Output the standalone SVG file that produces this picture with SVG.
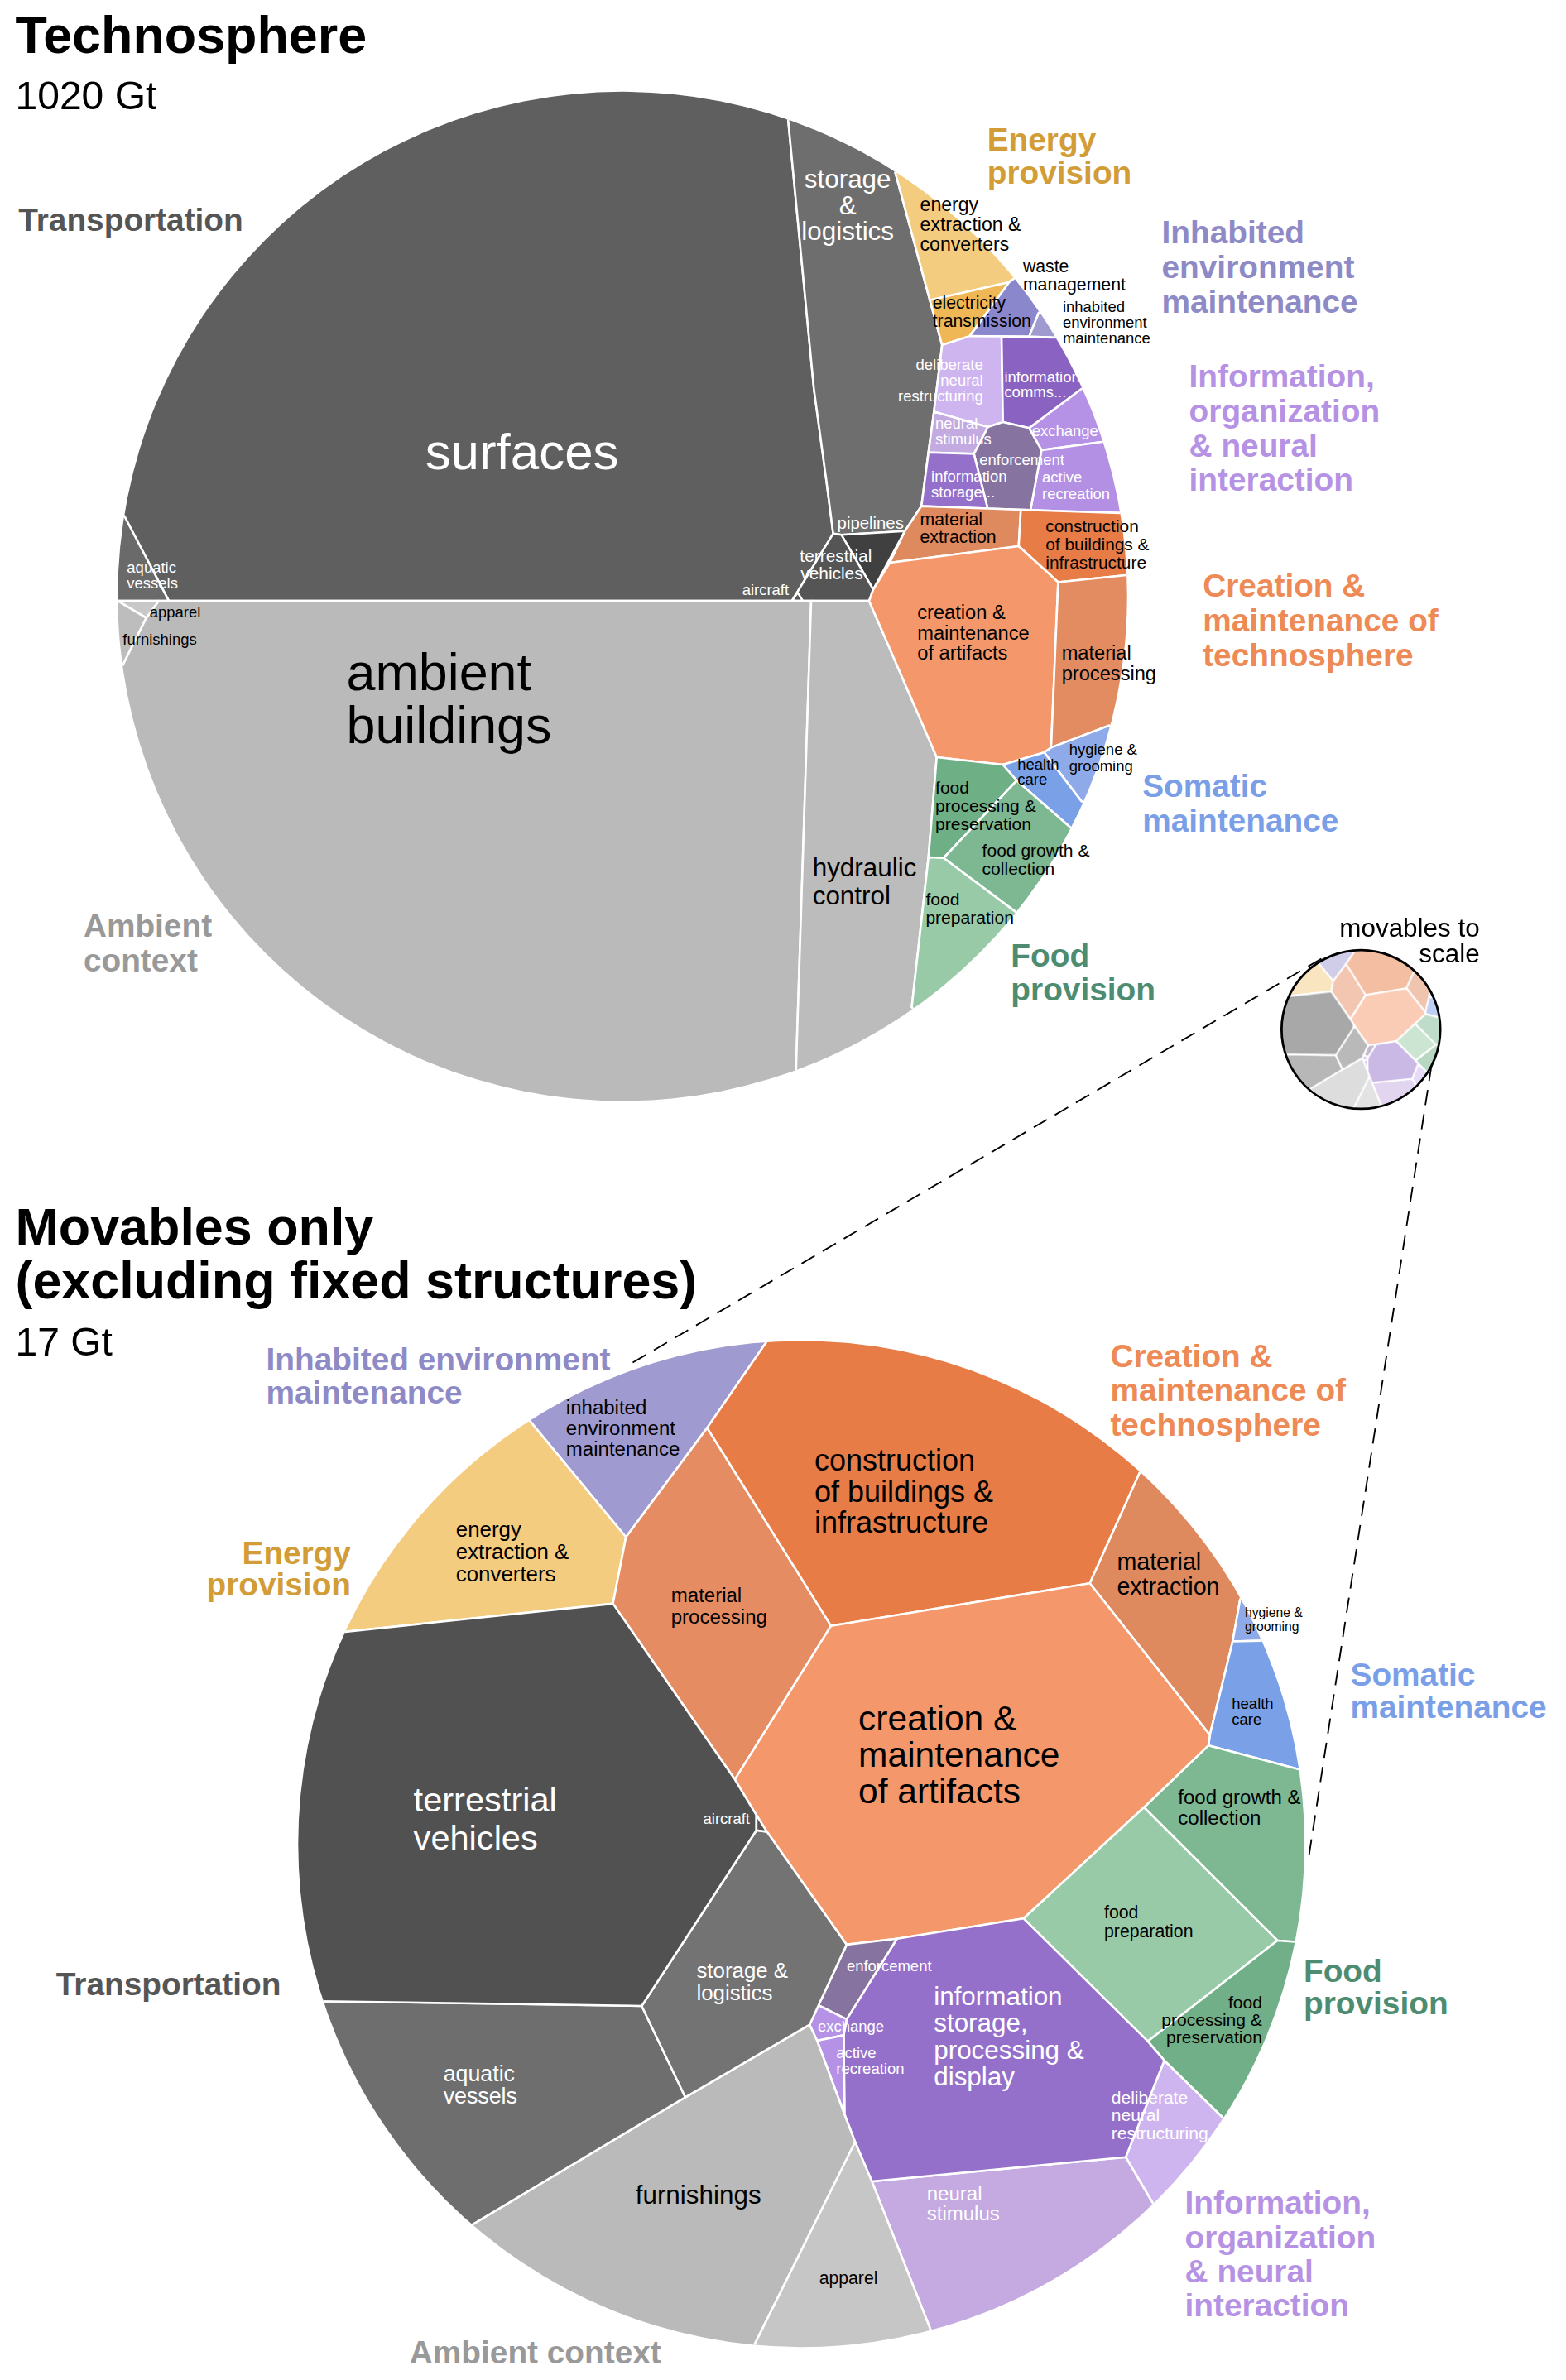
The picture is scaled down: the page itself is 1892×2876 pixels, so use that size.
<svg xmlns="http://www.w3.org/2000/svg" xmlns:xlink="http://www.w3.org/1999/xlink" width="1892" height="2876" viewBox="0 0 1892 2876">
<style>
text{font-family:"Liberation Sans",Arial,Helvetica,sans-serif;stroke:none}
.w{fill:#fff}
.k{fill:#000}
.grp{font-weight:700;font-size:21px}
.ttl{font-weight:700;font-size:34px;fill:#000}
.sub{font-size:26px;fill:#000}
</style>
<defs>
<clipPath id="clipT" clipPathUnits="userSpaceOnUse"><circle cx="407" cy="390" r="330"/></clipPath>
<clipPath id="clipB" clipPathUnits="userSpaceOnUse"><circle cx="524" cy="1206" r="329"/></clipPath>
</defs>
<rect width="1892" height="2876" fill="#fff"/>
<g transform="scale(1.8477)">

<!-- Titles -->
<g id="titles">
<text class="ttl" x="10" y="34.8">Technosphere</text>
<text class="sub" x="10" y="71.5">1020 Gt</text>
<text class="ttl" x="10" y="814.2">Movables only</text>
<text class="ttl" x="10" y="849">(excluding fixed structures)</text>
<text class="sub" x="10" y="886.7">17 Gt</text>
</g>

<!-- Group labels -->
<g id="group-labels" class="grp">
<text x="12" y="151" fill="#555555">Transportation</text>
<text fill="#999999"><tspan x="54.6" y="612.7">Ambient</tspan><tspan x="54.6" y="635.5">context</tspan></text>
<text fill="#d29c36"><tspan x="645.5" y="98.3">Energy</tspan><tspan x="645.5" y="120">provision</tspan></text>
<text fill="#8e8ac6"><tspan x="759.6" y="159">Inhabited</tspan><tspan x="759.6" y="181.7">environment</tspan><tspan x="759.6" y="204.5">maintenance</tspan></text>
<text fill="#b692e4"><tspan x="777.5" y="253.5">Information,</tspan><tspan x="777.5" y="276">organization</tspan><tspan x="777.5" y="298.5">&amp; neural</tspan><tspan x="777.5" y="321">interaction</tspan></text>
<text fill="#ee8a55"><tspan x="786.5" y="390.2">Creation &amp;</tspan><tspan x="786.5" y="413">maintenance of</tspan><tspan x="786.5" y="435.9">technosphere</tspan></text>
<text fill="#7a9fe7"><tspan x="747" y="521.3">Somatic</tspan><tspan x="747" y="544">maintenance</tspan></text>
<text fill="#4d8c70"><tspan x="661" y="632.4">Food</tspan><tspan x="661" y="654.5">provision</tspan></text>

<text fill="#8e8ac6"><tspan x="174" y="896.5">Inhabited environment</tspan><tspan x="174" y="918">maintenance</tspan></text>
<text fill="#d29c36" text-anchor="end"><tspan x="229.5" y="1022.7">Energy</tspan><tspan x="229.5" y="1043.5">provision</tspan></text>
<text fill="#ee8a55"><tspan x="726" y="894">Creation &amp;</tspan><tspan x="726" y="916.5">maintenance of</tspan><tspan x="726" y="939">technosphere</tspan></text>
<text fill="#7a9fe7"><tspan x="883" y="1102.3">Somatic</tspan><tspan x="883" y="1123.5">maintenance</tspan></text>
<text fill="#4d8c70"><tspan x="852.4" y="1296">Food</tspan><tspan x="852.4" y="1317.5">provision</tspan></text>
<text fill="#b692e4"><tspan x="774.8" y="1448">Information,</tspan><tspan x="774.8" y="1470.3">organization</tspan><tspan x="774.8" y="1492.6">&amp; neural</tspan><tspan x="774.8" y="1515">interaction</tspan></text>
<text x="36.7" y="1305" fill="#555555">Transportation</text>
<text x="267.8" y="1545.5" fill="#999999">Ambient context</text>
</g>

<!-- Technosphere (top circle): cells -->
<g id="technosphere-cells" stroke="#fff" stroke-width="1.4" stroke-linejoin="round">
<g id="t-surfaces"><polygon clip-path="url(#clipT)" fill="#5f5f5f" points="110.4,393 517.8,393 544.8,349 540.3,314 532.2,254.4 515.1,75.8 542,-3 407,-30 110,93 -8,323 81.2,337.3"/></g>
<g id="t-storage"><polygon clip-path="url(#clipT)" fill="#6e6e6e" points="515.1,75.8 532.2,254.4 540.3,314 544.8,349 550.2,349.8 591.7,347.3 602.5,331 607.1,295.9 610.7,269.2 616,225.7 608,196.3 585.4,112.8 630,43.5 542,-3"/></g>
<g id="t-pipelines"><polygon clip-path="url(#clipT)" fill="#404040" points="550.2,349.8 591.7,347.3 571,385.5"/></g>
<g id="t-terrestrial"><polygon clip-path="url(#clipT)" fill="#555555" points="544.8,349 550.2,349.8 571,385.5 568.3,393 517.8,393"/></g>
<g id="t-aircraft"><polygon clip-path="url(#clipT)" fill="#555555" points="518,393 521.5,387.5 525,393"/></g>
<g id="t-aquatic"><polygon clip-path="url(#clipT)" fill="#6a6a6a" points="81.2,337.3 110.4,393 -10,393 -8,323"/></g>
<g id="t-ambient"><polygon clip-path="url(#clipT)" fill="#bababa" points="103.7,393 530.4,393 521.4,671 520.5,700 549,777.5 407,810 110,687 -1.4,446 80.3,434.8 95.6,404.1"/></g>
<g id="t-apparel"><polygon clip-path="url(#clipT)" fill="#c8c8c8" points="77,393 103.7,393 95.6,404.1"/></g>
<g id="t-furnishings"><polygon clip-path="url(#clipT)" fill="#bdbdbd" points="77,393 95.6,404.1 80.3,434.8 -1.4,446 -10,393"/></g>
<g id="t-hydraulic"><polygon clip-path="url(#clipT)" fill="#bcbcbc" points="530.4,393 568.3,393 612.5,495.2 607.1,560.7 596.2,658.5 643.5,725.6 549,777.5 520.5,700 521.4,671"/></g>
<g id="t-energy"><polygon clip-path="url(#clipT)" fill="#f3cc80" points="585.4,112.8 608,196.3 659.9,184.5 663,182.2 727,130 630,43.5"/></g>
<g id="t-electricity"><polygon clip-path="url(#clipT)" fill="#f0b756" points="608,196.3 659.9,184.5 634.1,219.8 616,225.7"/></g>
<g id="t-waste"><polygon clip-path="url(#clipT)" fill="#8b87cc" points="659.9,184.5 663,182.2 727,130 747.3,158.3 679.2,204.6 672.9,220.2 634.1,219.8"/></g>
<g id="t-inhabited"><polygon clip-path="url(#clipT)" fill="#9f9ad0" points="679.2,204.6 747.3,158.3 760.8,178.5 690,220.8 672.9,220.2"/></g>
<g id="t-deliberate"><polygon clip-path="url(#clipT)" fill="#cfb5f0" points="616,225.7 634.1,219.8 654.9,220 655.8,276 645.9,279.3 610.7,269.2"/></g>
<g id="t-comms"><polygon clip-path="url(#clipT)" fill="#8a62c2" points="654.9,220 672.9,220.2 690,220.8 760.8,178.5 782.3,220.5 707.2,254.4 672.9,280 655.8,276"/></g>
<g id="t-exchange"><polygon clip-path="url(#clipT)" fill="#b592e6" points="672.9,280 707.2,254.4 782.3,220.5 799.1,263.8 720.7,289 681,294.4"/></g>
<g id="t-recreation"><polygon clip-path="url(#clipT)" fill="#b390e4" points="681,294.4 720.7,289 799.1,263.8 812.6,321.5 732,335.5 673.8,333.6"/></g>
<g id="t-enforcement"><polygon clip-path="url(#clipT)" fill="#87739f" points="645.9,279.3 655.8,276 672.9,280 681,294.4 673.8,333.6 645.8,332.6 636.8,296.8"/></g>
<g id="t-stimulus"><polygon clip-path="url(#clipT)" fill="#c3aae0" points="610.7,269.2 645.9,279.3 636.8,296.8 607.1,295.9"/></g>
<g id="t-infostorage"><polygon clip-path="url(#clipT)" fill="#9570cb" points="607.1,295.9 636.8,296.8 645.8,332.6 602.5,331"/></g>
<g id="t-extraction"><polygon clip-path="url(#clipT)" fill="#de8a5e" points="602.5,331 645.8,332.6 667.5,333.4 666.1,357.2 581.8,368 591.7,347.3"/></g>
<g id="t-construction"><polygon clip-path="url(#clipT)" fill="#e87c47" points="667.5,333.4 673.8,333.6 732,335.5 813.8,322.4 818.8,372.6 736.4,376.1 691.9,380.7 666.1,357.2"/></g>
<g id="t-creation"><polygon clip-path="url(#clipT)" fill="#f4986c" points="581.8,368 666.1,357.2 691.9,380.7 687.3,488.9 682.8,492.1 655.8,500.1 612.5,495.2 568.3,393 571,385.5"/></g>
<g id="t-processing"><polygon clip-path="url(#clipT)" fill="#e38c62" points="691.9,380.7 736.4,376.1 818.8,372.6 819,440 804.8,495.6 725.2,474.5 687.3,488.9"/></g>
<g id="t-hygiene"><polygon clip-path="url(#clipT)" fill="#8faae8" points="682.8,492.1 687.3,488.9 725.2,474.5 804.8,495.6 782.3,557.6 707.2,524.1"/></g>
<g id="t-health"><polygon clip-path="url(#clipT)" fill="#7aa0e8" points="655.8,500.1 682.8,492.1 707.2,524.1 782.3,557.6 773.3,579 700,541.2 664.8,510.5"/></g>
<g id="t-foodproc"><polygon clip-path="url(#clipT)" fill="#6faf86" points="612.5,495.2 655.8,500.1 664.8,510.5 617,561.1 607.1,560.7"/></g>
<g id="t-foodgrowth"><polygon clip-path="url(#clipT)" fill="#7db892" points="664.8,510.5 700,541.2 773.3,579 728.1,647.8 663.9,596.2 617,561.1"/></g>
<g id="t-foodprep"><polygon clip-path="url(#clipT)" fill="#98caa7" points="607.1,560.7 617,561.1 663.9,596.2 728.1,647.8 643.5,725.6 596.2,658.5"/></g>
</g>

<!-- Technosphere (top circle): labels -->
<g id="technosphere-labels">
<text id="t-surfaces-label" class="w" x="278" y="307" font-size="33.5">surfaces</text>
<text id="t-storage-label" class="w" font-size="17" text-anchor="middle"><tspan x="554.3" y="123">storage</tspan><tspan x="554.3" y="140">&amp;</tspan><tspan x="554.3" y="157">logistics</tspan></text>
<text id="t-pipelines-label" class="w" x="547.5" y="345.6" font-size="11">pipelines</text>
<text id="t-terrestrial-label" class="w" font-size="11.3"><tspan x="523" y="367.7">terrestrial</tspan><tspan x="523.5" y="378.8">vehicles</tspan></text>
<text id="t-aircraft-label" class="w" x="485.3" y="389.3" font-size="10">aircraft</text>
<text id="t-aquatic-label" class="w" font-size="10"><tspan x="83" y="374.3">aquatic</tspan><tspan x="83" y="384.6">vessels</tspan></text>
<text id="t-ambient-label" class="k" font-size="34"><tspan x="226.5" y="451.5">ambient</tspan><tspan x="226.5" y="486">buildings</tspan></text>
<text id="t-apparel-label" class="k" x="97.8" y="403.6" font-size="10">apparel</text>
<text id="t-furnishings-label" class="k" x="80.3" y="421.6" font-size="10">furnishings</text>
<text id="t-hydraulic-label" class="k" font-size="17"><tspan x="531.3" y="573.3">hydraulic</tspan><tspan x="531.3" y="591.4">control</tspan></text>
<text id="t-energy-label" class="k" font-size="12.5"><tspan x="601.6" y="138">energy</tspan><tspan x="601.6" y="151">extraction &amp;</tspan><tspan x="601.6" y="164">converters</tspan></text>
<text id="t-electricity-label" class="k" font-size="11.5"><tspan x="609.8" y="202.1">electricity</tspan><tspan x="609.8" y="213.8">transmission</tspan></text>
<text id="t-waste-label" class="k" font-size="11.5"><tspan x="668.9" y="178.2">waste</tspan><tspan x="668.9" y="189.8">management</tspan></text>
<text id="t-inhabited-label" class="k" font-size="10"><tspan x="694.9" y="203.9">inhabited</tspan><tspan x="694.9" y="214.1">environment</tspan><tspan x="694.9" y="224.6">maintenance</tspan></text>
<text id="t-deliberate-label" class="w" font-size="10" text-anchor="end"><tspan x="642.8" y="241.7">deliberate</tspan><tspan x="642.8" y="252.2">neural</tspan><tspan x="642.8" y="262.5">restructuring</tspan></text>
<text id="t-comms-label" class="w" font-size="10"><tspan x="656.7" y="249.9">information</tspan><tspan x="656.7" y="259.8">comms...</tspan></text>
<text id="t-exchange-label" class="w" x="674.7" y="285" font-size="10">exchange</text>
<text id="t-recreation-label" class="w" font-size="10"><tspan x="681.4" y="315.7">active</tspan><tspan x="681.4" y="326.2">recreation</tspan></text>
<text id="t-enforcement-label" class="w" x="640.4" y="304" font-size="10">enforcement</text>
<text id="t-stimulus-label" class="w" font-size="10"><tspan x="611.6" y="280.5">neural</tspan><tspan x="611.6" y="290.8">stimulus</tspan></text>
<text id="t-infostorage-label" class="w" font-size="10"><tspan x="608.9" y="314.8">information</tspan><tspan x="608.9" y="325.1">storage...</tspan></text>
<text id="t-extraction-label" class="k" font-size="11.5"><tspan x="601.6" y="343.7">material</tspan><tspan x="601.6" y="355">extraction</tspan></text>
<text id="t-construction-label" class="k" font-size="11.3"><tspan x="683.7" y="348.2">construction</tspan><tspan x="683.7" y="359.9">of buildings &amp;</tspan><tspan x="683.7" y="371.6">infrastructure</tspan></text>
<text id="t-creation-label" class="k" font-size="12.8"><tspan x="599.8" y="405">creation &amp;</tspan><tspan x="599.8" y="418.2">maintenance</tspan><tspan x="599.8" y="431.5">of artifacts</tspan></text>
<text id="t-processing-label" class="k" font-size="12.8"><tspan x="694.2" y="431.2">material</tspan><tspan x="694.2" y="444.7">processing</tspan></text>
<text id="t-hygiene-label" class="k" font-size="10"><tspan x="699.1" y="493.4">hygiene &amp;</tspan><tspan x="699.1" y="504.2">grooming</tspan></text>
<text id="t-health-label" class="k" font-size="10"><tspan x="665.3" y="503.3">health</tspan><tspan x="665.3" y="513.3">care</tspan></text>
<text id="t-foodproc-label" class="k" font-size="11.4"><tspan x="611.6" y="519.2">food</tspan><tspan x="611.6" y="530.9">processing &amp;</tspan><tspan x="611.6" y="543">preservation</tspan></text>
<text id="t-foodgrowth-label" class="k" font-size="11.4"><tspan x="642.2" y="560.2">food growth &amp;</tspan><tspan x="642.2" y="571.9">collection</tspan></text>
<text id="t-foodprep-label" class="k" font-size="11.4"><tspan x="605.3" y="592.3">food</tspan><tspan x="605.3" y="604">preparation</tspan></text>
</g>

<!-- Movables (bottom circle): cells -->
<g id="movables-cells" stroke="#fff" stroke-width="1.4" stroke-linejoin="round">
<g id="m-inhabited"><polygon id="mp-inhabited" clip-path="url(#clipB)" fill="#9f9ad0" points="501.1,877.7 462.4,933.8 409.3,1005.3 346.5,929.3 302.1,860.1 495.4,795.6"/></g>
<g id="m-energy"><polygon id="mp-energy" clip-path="url(#clipB)" fill="#f3cc80" points="346.5,929.3 409.3,1005.3 400.8,1048.8 225.7,1067.2 151.1,1032.5 302.1,860.1"/></g>
<g id="m-processing"><polygon id="mp-processing" clip-path="url(#clipB)" fill="#e68c62" points="409.3,1005.3 462.4,933.8 543.4,1063.3 480.5,1163.8 400.8,1048.8"/></g>
<g id="m-construction"><polygon id="mp-construction" clip-path="url(#clipB)" fill="#e87c47" points="501.1,877.7 495.4,795.6 800.4,902.8 745.1,963.4 712.6,1035.5 543.4,1063.3 462.4,933.8"/></g>
<g id="m-extraction"><polygon id="mp-extraction" clip-path="url(#clipB)" fill="#de8a5e" points="745.1,963.4 800.4,902.8 882.6,1006 810.9,1046 806,1073.5 791.1,1134.7 712.6,1035.5"/></g>
<g id="m-hygiene"><polygon id="mp-hygiene" clip-path="url(#clipB)" fill="#8faae8" points="810.9,1046 882.6,1006 899.6,1039.8 824.5,1073 806,1073.5"/></g>
<g id="m-health"><polygon id="mp-health" clip-path="url(#clipB)" fill="#7aa0e8" points="806,1073.5 824.5,1073 899.6,1039.8 931.1,1145.1 849.7,1157.3 790.2,1141.5 791.1,1134.7"/></g>
<g id="m-foodgrowth"><polygon id="mp-foodgrowth" clip-path="url(#clipB)" fill="#7db892" points="790.2,1141.5 849.7,1157.3 931.1,1145.1 927.8,1286 847,1270 835.3,1269.1 748,1182"/></g>
<g id="m-creation"><polygon id="mp-creation" clip-path="url(#clipB)" fill="#f4986c" points="543.4,1063.3 712.6,1035.5 791.1,1134.7 790.2,1141.5 748,1182 669.3,1254.7 586.5,1267.9 553.6,1271.8 501.4,1197.9 494.6,1187.1 480.5,1163.8"/></g>
<g id="m-foodprep"><polygon id="mp-foodprep" clip-path="url(#clipB)" fill="#98caa7" points="748,1182 835.3,1269.1 750.5,1335 669.3,1254.7"/></g>
<g id="m-foodproc"><polygon id="mp-foodproc" clip-path="url(#clipB)" fill="#70af87" points="750.5,1335 835.3,1269.1 847,1270 927.8,1286 869.1,1430.4 800.1,1385.5 761.3,1347.6"/></g>
<g id="m-deliberate"><polygon id="mp-deliberate" clip-path="url(#clipB)" fill="#cfb5f0" points="761.3,1347.6 800.1,1385.5 869.1,1430.4 811.6,1500.3 754.1,1441.4 736.1,1410.8"/></g>
<g id="m-stimulus"><polygon id="mp-stimulus" clip-path="url(#clipB)" fill="#c4aae0" points="570.1,1426.6 736.1,1410.8 754.1,1441.4 811.6,1500.3 630,1604 608.8,1524.4"/></g>
<g id="m-info"><polygon id="mp-info" clip-path="url(#clipB)" fill="#9570cb" points="586.5,1267.9 669.3,1254.7 750.5,1335 761.3,1347.6 736.1,1410.8 570.1,1426.6 559.1,1400.8 552.2,1382.8 551.7,1331 553.6,1320.6"/></g>
<g id="m-enforcement"><polygon id="mp-enforcement" clip-path="url(#clipB)" fill="#87739f" points="553.6,1271.8 586.5,1267.9 553.6,1320.6 535.2,1311.5"/></g>
<g id="m-exchange"><polygon id="mp-exchange" clip-path="url(#clipB)" fill="#b592e6" points="535.2,1311.5 553.6,1320.6 551.7,1331 534.3,1334.6 529.4,1324.2"/></g>
<g id="m-recreation"><polygon id="mp-recreation" clip-path="url(#clipB)" fill="#b592e6" points="534.3,1334.6 551.7,1331 552.2,1382.8"/></g>
<g id="m-apparel"><polygon id="mp-apparel" clip-path="url(#clipB)" fill="#c6c6c6" points="559.1,1400.8 570.1,1426.6 608.8,1524.4 630,1604 485,1616.4 492.8,1534.3"/></g>
<g id="m-furnishings"><polygon id="mp-furnishings" clip-path="url(#clipB)" fill="#bababa" points="448.1,1371.6 529.4,1324.2 534.3,1334.6 552.2,1382.8 559.1,1400.8 492.8,1534.3 485,1616.4 253.8,1517.9 307.8,1455.5"/></g>
<g id="m-aquatic"><polygon id="mp-aquatic" clip-path="url(#clipB)" fill="#6e6e6e" points="209.8,1308.8 419.6,1311.9 448.1,1371.6 307.8,1455.5 253.8,1517.9 131.3,1334.5"/></g>
<g id="m-storage"><polygon id="mp-storage" clip-path="url(#clipB)" fill="#737373" points="494.6,1197 501.4,1197.9 553.6,1271.8 535.2,1311.5 529.4,1324.2 448.1,1371.6 419.6,1311.9"/></g>
<g id="m-terrestrial"><polygon id="mp-terrestrial" clip-path="url(#clipB)" fill="#515151" points="225.7,1067.2 400.8,1048.8 480.5,1163.8 494.6,1187.1 494.6,1197 419.6,1311.9 209.8,1308.8 131.3,1334.5 151.1,1032.5"/></g>
<g id="m-aircraft"><polygon id="mp-aircraft" clip-path="url(#clipB)" fill="#555555" points="494.6,1187.1 501.4,1197.9 494.6,1197"/></g>
</g>

<!-- Movables (bottom circle): labels -->
<g id="movables-labels">
<text id="m-inhabited-label" class="k" font-size="13"><tspan x="370.1" y="924.7">inhabited</tspan><tspan x="370.1" y="938.2">environment</tspan><tspan x="370.1" y="951.8">maintenance</tspan></text>
<text id="m-energy-label" class="k" font-size="14"><tspan x="298.1" y="1005.3">energy</tspan><tspan x="298.1" y="1019.8">extraction &amp;</tspan><tspan x="298.1" y="1034.3">converters</tspan></text>
<text id="m-processing-label" class="k" font-size="13"><tspan x="438.8" y="1047.8">material</tspan><tspan x="438.8" y="1062">processing</tspan></text>
<text id="m-construction-label" class="k" font-size="19.5"><tspan x="532.5" y="961.8">construction</tspan><tspan x="532.5" y="982.1">of buildings &amp;</tspan><tspan x="532.5" y="1002.4">infrastructure</tspan></text>
<text id="m-extraction-label" class="k" font-size="15.5"><tspan x="730.3" y="1026.5">material</tspan><tspan x="730.3" y="1042.7">extraction</tspan></text>
<text id="m-hygiene-label" class="k" font-size="8.5"><tspan x="814" y="1057.5">hygiene &amp;</tspan><tspan x="814" y="1066.6">grooming</tspan></text>
<text id="m-health-label" class="k" font-size="10"><tspan x="805.5" y="1117.6">health</tspan><tspan x="805.5" y="1127.9">care</tspan></text>
<text id="m-foodgrowth-label" class="k" font-size="13"><tspan x="770.3" y="1179.8">food growth &amp;</tspan><tspan x="770.3" y="1193.4">collection</tspan></text>
<text id="m-creation-label" class="k" font-size="23"><tspan x="561.3" y="1131.5">creation &amp;</tspan><tspan x="561.3" y="1155.5">maintenance</tspan><tspan x="561.3" y="1179.5">of artifacts</tspan></text>
<text id="m-foodprep-label" class="k" font-size="11.5"><tspan x="722" y="1254.7">food</tspan><tspan x="722" y="1266.8">preparation</tspan></text>
<text id="m-foodproc-label" class="k" font-size="11.4" text-anchor="end"><tspan x="825.3" y="1313.3">food</tspan><tspan x="825.3" y="1325.1">processing &amp;</tspan><tspan x="825.3" y="1336.4">preservation</tspan></text>
<text id="m-deliberate-label" class="w" font-size="11.4"><tspan x="726.7" y="1375.6">deliberate</tspan><tspan x="726.7" y="1387">neural</tspan><tspan x="726.7" y="1399">restructuring</tspan></text>
<text id="m-stimulus-label" class="w" font-size="13"><tspan x="606" y="1439">neural</tspan><tspan x="606" y="1452">stimulus</tspan></text>
<text id="m-info-label" class="w" font-size="17"><tspan x="610.6" y="1311.5">information</tspan><tspan x="610.6" y="1328.9">storage,</tspan><tspan x="610.6" y="1346.5">processing &amp;</tspan><tspan x="610.6" y="1363.9">display</tspan></text>
<text id="m-enforcement-label" class="w" x="553.6" y="1289" font-size="10">enforcement</text>
<text id="m-exchange-label" class="w" x="534.7" y="1328.7" font-size="10">exchange</text>
<text id="m-recreation-label" class="w" font-size="10"><tspan x="546.8" y="1345.8">active</tspan><tspan x="546.8" y="1356.3">recreation</tspan></text>
<text id="m-apparel-label" class="k" x="535.6" y="1493.7" font-size="11.5">apparel</text>
<text id="m-furnishings-label" class="k" x="415.5" y="1441.4" font-size="17">furnishings</text>
<text id="m-aquatic-label" class="w" font-size="14.5"><tspan x="289.9" y="1361.1">aquatic</tspan><tspan x="289.9" y="1375.6">vessels</tspan></text>
<text id="m-storage-label" class="w" font-size="14"><tspan x="455.4" y="1293.5">storage &amp;</tspan><tspan x="455.4" y="1307.9">logistics</tspan></text>
<text id="m-terrestrial-label" class="w" font-size="22.5"><tspan x="270.4" y="1184.6">terrestrial</tspan><tspan x="270.4" y="1209.5">vehicles</tspan></text>
<text id="m-aircraft-label" class="w" x="459.8" y="1193" font-size="10">aircraft</text>
</g>

<!-- Movables to scale (small circle) -->
<g id="movables-to-scale">
<g opacity="0.5" stroke="#fff" stroke-width="6.9" stroke-linejoin="round" transform="translate(889.9,673.3) scale(0.15775) translate(-524,-1206)">
<use xlink:href="#mp-inhabited"/><use xlink:href="#mp-energy"/><use xlink:href="#mp-processing"/><use xlink:href="#mp-construction"/>
<use xlink:href="#mp-extraction"/><use xlink:href="#mp-hygiene"/><use xlink:href="#mp-health"/><use xlink:href="#mp-foodgrowth"/>
<use xlink:href="#mp-creation"/><use xlink:href="#mp-foodprep"/><use xlink:href="#mp-foodproc"/><use xlink:href="#mp-deliberate"/>
<use xlink:href="#mp-stimulus"/><use xlink:href="#mp-info"/><use xlink:href="#mp-enforcement"/><use xlink:href="#mp-exchange"/>
<use xlink:href="#mp-recreation"/><use xlink:href="#mp-apparel"/><use xlink:href="#mp-furnishings"/><use xlink:href="#mp-aquatic"/>
<use xlink:href="#mp-storage"/><use xlink:href="#mp-terrestrial"/><use xlink:href="#mp-aircraft"/>
</g>
<circle cx="889.9" cy="673.3" r="51.9" fill="none" stroke="#000" stroke-width="1.5"/>
<text class="k" font-size="17" text-anchor="end"><tspan x="967.5" y="612.8">movables to</tspan><tspan x="967.5" y="629.6">scale</tspan></text>
</g>

<!-- Connectors -->
<g id="connectors" fill="none" stroke="#000" stroke-width="1" stroke-dasharray="10 6">
<line x1="864" y1="627" x2="410.5" y2="893"/>
<line x1="936" y1="697" x2="856" y2="1213"/>
</g>

</g>
</svg>
